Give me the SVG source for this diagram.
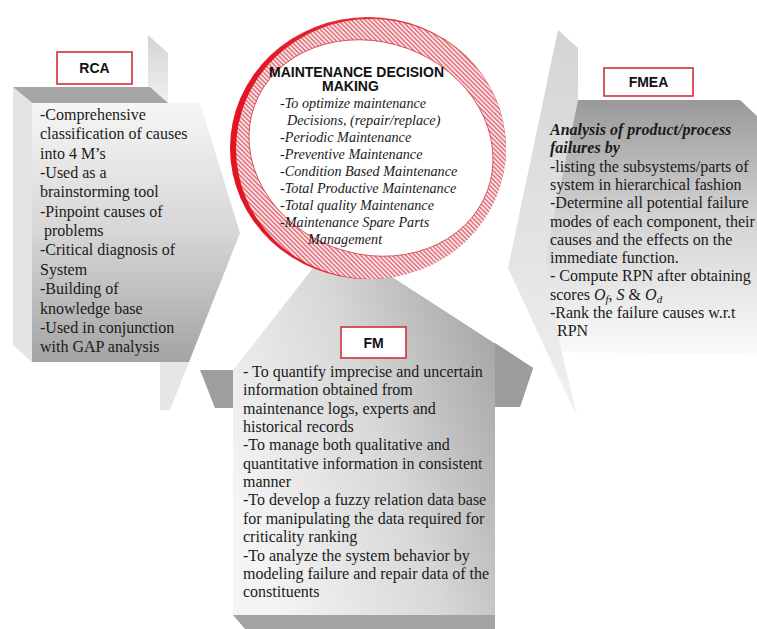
<svg xmlns="http://www.w3.org/2000/svg" width="757" height="629" viewBox="0 0 757 629">
<defs>
<style>
.body{font-family:"Liberation Serif","Times New Roman",serif;font-size:16px;fill:#1a1a1a}
.ital{font-family:"Liberation Serif","Times New Roman",serif;font-size:14.2px;font-style:italic;fill:#1a1a1a}
.bi{font-family:"Liberation Serif","Times New Roman",serif;font-size:16px;font-style:italic;font-weight:bold;fill:#1a1a1a}
.lbl{font-family:"Liberation Sans",Arial,sans-serif;font-size:14px;font-weight:bold;fill:#111;text-anchor:middle}
.ttl{font-family:"Liberation Sans",Arial,sans-serif;font-size:14px;font-weight:bold;fill:#111}
.box{fill:#fff;stroke:#d0303c;stroke-width:1.6}
</style>
<linearGradient id="rcaFront" x1="0" y1="0" x2="0" y2="1">
<stop offset="0" stop-color="#f6f6f6"/>
<stop offset="0.5" stop-color="#d6d6d6"/>
<stop offset="1" stop-color="#a4a4a4"/>
</linearGradient>
<linearGradient id="slab" x1="0" y1="0" x2="0" y2="1">
<stop offset="0" stop-color="#d4d4d4"/>
<stop offset="1" stop-color="#f0f0f0"/>
</linearGradient>
<linearGradient id="fmeaFront" x1="0" y1="0" x2="0" y2="1">
<stop offset="0" stop-color="#999999"/>
<stop offset="0.45" stop-color="#d2d2d2"/>
<stop offset="1" stop-color="#fafafa"/>
</linearGradient>
<linearGradient id="fmBody" x1="0" y1="0.65" x2="1" y2="0.2">
<stop offset="0" stop-color="#f4f4f4"/>
<stop offset="0.45" stop-color="#d8d8d8"/>
<stop offset="1" stop-color="#989898"/>
</linearGradient>
<linearGradient id="redEdge" x1="0" y1="0" x2="1" y2="0">
<stop offset="0" stop-color="#e3121f"/>
<stop offset="1" stop-color="#e04a55"/>
</linearGradient>
<pattern id="hatch" width="3.2" height="3.2" patternUnits="userSpaceOnUse" patternTransform="rotate(-45)">
<rect width="3.2" height="3.2" fill="#fae6e8"/>
<line x1="0.8" y1="0" x2="0.8" y2="3.2" stroke="#d8404d" stroke-width="1.05"/>
</pattern>
</defs>
<rect width="757" height="629" fill="#ffffff"/>

<g id="node-fm">
<path d="M233,370 L335,240 L533,368 L520,407 L495,407 L495,617 L233,617 Z" fill="url(#fmBody)"/>
<polygon points="495,343 533,368 520,407 495,407" fill="#9c9c9c"/>
<polygon points="200,370 233,370 233,408 215,408" fill="#9e9e9e"/>
<polygon points="233,615 495,615 495,629 245,629" fill="#a3a3a3"/>
<rect class="box" x="341" y="327" width="65" height="31"/>
<text class="lbl" x="373.5" y="348">FM</text>
<text class="body">
<tspan x="243" y="377">- To quantify imprecise and uncertain</tspan>
<tspan x="243" y="395.35">information obtained from</tspan>
<tspan x="243" y="413.7">maintenance logs, experts and</tspan>
<tspan x="243" y="432.05">historical records</tspan>
<tspan x="243" y="450.4">-To manage both qualitative and</tspan>
<tspan x="243" y="468.75">quantitative information in consistent</tspan>
<tspan x="243" y="487.1">manner</tspan>
<tspan x="243" y="505.45">-To develop a fuzzy relation data base</tspan>
<tspan x="243" y="523.8">for manipulating the data required for</tspan>
<tspan x="243" y="542.15">criticality ranking</tspan>
<tspan x="243" y="560.5">-To analyze the system behavior by</tspan>
<tspan x="243" y="578.85">modeling failure and repair data of the</tspan>
<tspan x="243" y="597.2">constituents</tspan>
</text>
</g>

<g id="node-rca">
<polygon points="148,35 168,53 168,103 148,87" fill="url(#slab)"/>
<polygon points="13,87 150,87 168,103 32,103" fill="#a6a6a6"/>
<polygon points="13,87 32,103 32,362 13,345" fill="#e4e4e4"/>
<polygon points="32,103 200,103 240,233 189,362 32,362" fill="url(#rcaFront)"/>
<polygon points="160,362 189,362 170,410 160,410" fill="#e6e6e6"/>
<rect class="box" x="57" y="52" width="75" height="32"/>
<text class="lbl" x="94.5" y="73">RCA</text>
<text class="body">
<tspan x="40" y="120">-Comprehensive</tspan>
<tspan x="40" y="139.35">classification of causes</tspan>
<tspan x="40" y="158.7">into 4 M’s</tspan>
<tspan x="40" y="178.05">-Used as a</tspan>
<tspan x="40" y="197.4">brainstorming tool</tspan>
<tspan x="40" y="216.75">-Pinpoint causes of</tspan>
<tspan x="44" y="236.1">problems</tspan>
<tspan x="40" y="255.45">-Critical diagnosis of</tspan>
<tspan x="40" y="274.8">System</tspan>
<tspan x="40" y="294.15">-Building of</tspan>
<tspan x="40" y="313.5">knowledge base</tspan>
<tspan x="40" y="332.85">-Used in conjunction</tspan>
<tspan x="40" y="352.2">with GAP analysis</tspan>
</text>
</g>

<g id="node-fmea">
<polygon points="558,30 578,48 578,100 545,258 562,352 577,417 508,268" fill="url(#slab)"/>
<polygon points="578,100 740,100 757,116 757,355 562,352 545,258" fill="url(#fmeaFront)"/>
<rect class="box" x="604" y="68" width="89" height="28"/>
<text class="lbl" x="648.5" y="87">FMEA</text>
<text class="bi">
<tspan x="550" y="135">Analysis of product/process</tspan>
<tspan x="550" y="153.3">failures by</tspan>
</text>
<text class="body">
<tspan x="550" y="171.6">-listing the subsystems/parts of</tspan>
<tspan x="550" y="189.9">system in hierarchical fashion</tspan>
<tspan x="550" y="208.2">-Determine all potential failure</tspan>
<tspan x="550" y="226.5">modes of each component, their</tspan>
<tspan x="550" y="244.8">causes and the effects on the</tspan>
<tspan x="550" y="263.1">immediate function.</tspan>
<tspan x="550" y="281.4">- Compute RPN after obtaining</tspan>
</text>
<text class="body" x="550" y="299.7">scores <tspan font-style="italic">O</tspan><tspan font-style="italic" font-size="11" dy="3">f</tspan><tspan dy="-3">, </tspan><tspan font-style="italic">S</tspan> &amp; <tspan font-style="italic">O</tspan><tspan font-style="italic" font-size="11" dy="3">d</tspan></text>
<text class="body">
<tspan x="550" y="318">-Rank the failure causes w.r.t</tspan>
<tspan x="557" y="336.3">RPN</tspan>
</text>
</g>

<g id="node-mdm">
<ellipse cx="368" cy="148" rx="138" ry="131" fill="url(#redEdge)"/>
<ellipse cx="371" cy="149" rx="135" ry="130" fill="url(#hatch)"/>
<ellipse cx="371" cy="148" rx="124" ry="106" transform="rotate(20 371 148)" fill="#ffffff" stroke="#d8404c" stroke-width="0.8"/>
<text class="ttl" x="269" y="76.5">MAINTENANCE DECISION</text>
<text class="ttl" x="322" y="91">MAKING</text>
<text class="ital">
<tspan x="280" y="107.5">-To optimize maintenance</tspan>
<tspan x="287" y="124.5">Decisions, (repair/replace)</tspan>
<tspan x="280" y="141.5">-Periodic Maintenance</tspan>
<tspan x="280" y="158.5">-Preventive Maintenance</tspan>
<tspan x="280" y="175.5">-Condition Based Maintenance</tspan>
<tspan x="280" y="192.5">-Total Productive Maintenance</tspan>
<tspan x="280" y="209.5">-Total quality Maintenance</tspan>
<tspan x="280" y="226.5">-Maintenance Spare Parts</tspan>
<tspan x="308" y="243.5">Management</tspan>
</text>
</g>

<g id="connectors"/>
</svg>
